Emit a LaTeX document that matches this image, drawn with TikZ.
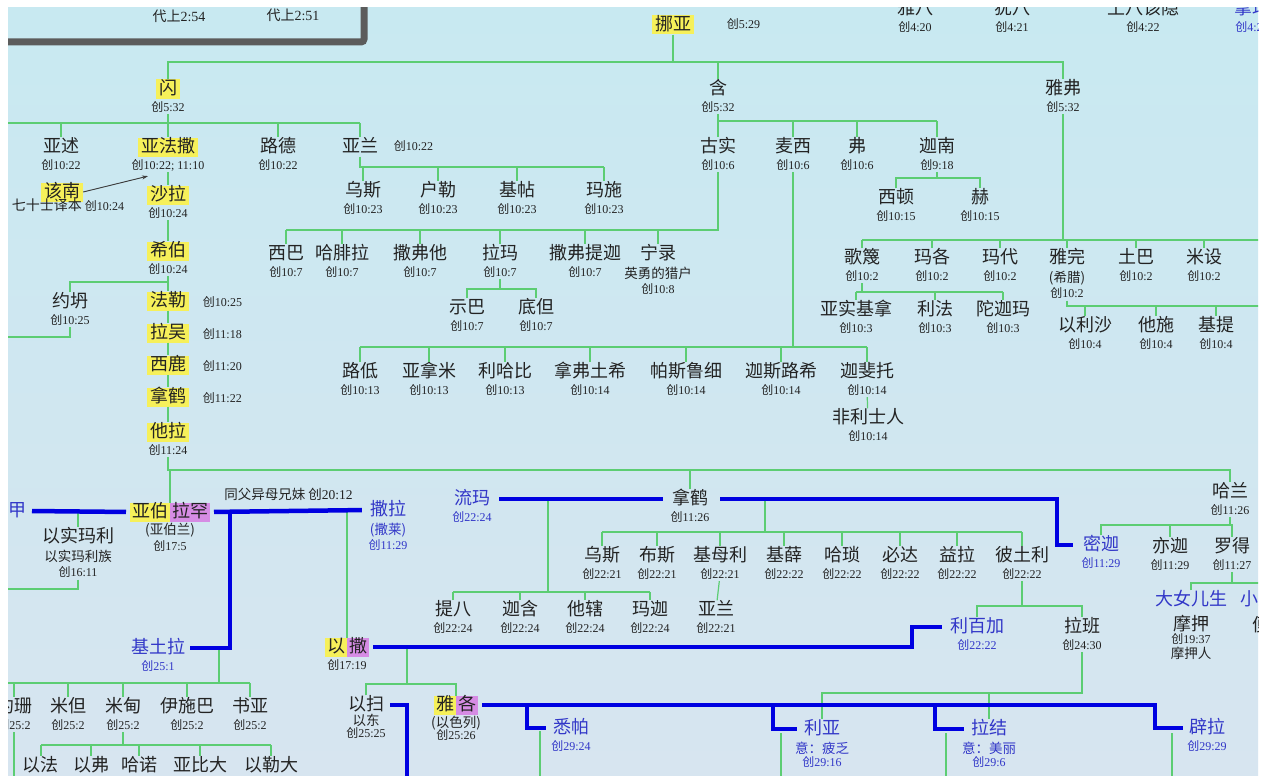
\documentclass[tikz,border=0pt]{standalone}
\usepackage{fontspec}
\setmainfont{Liberation Serif}
\newfontfamily\cjk{Noto Sans CJK SC}
\usetikzlibrary{positioning,arrows.meta}

\definecolor{ink}{RGB}{35,35,35}
\definecolor{nblue}{RGB}{50,55,200}
\definecolor{lgreen}{RGB}{92,205,115}
\definecolor{bblue}{RGB}{0,0,225}
\definecolor{hlyellow}{RGB}{246,240,90}
\definecolor{hlpurple}{RGB}{214,140,228}
\definecolor{bgtop}{RGB}{200,233,241}
\definecolor{bgbot}{RGB}{215,229,240}
\definecolor{boxgray}{RGB}{92,92,92}
\definecolor{arrowgray}{RGB}{60,60,60}

\newcommand\vs[1]{{\cjk 创}{\rmfamily #1}}

\tikzset{
  nm/.style={font=\cjk\fontsize{18}{20}\selectfont, text=ink, inner xsep=3pt, inner ysep=1pt, text height=14pt, text depth=3pt},
  bnm/.style={nm, text=nblue},
  hly/.style={nm, fill=hlyellow},
  hlp/.style={nm, fill=hlpurple},
  pair/.style={inner xsep=2pt, outer sep=0pt},
  rf/.style={font=\fontsize{12}{13}\selectfont, text=ink, inner sep=0.5pt, text height=8.5pt, text depth=2pt},
  brf/.style={rf, text=nblue},
  sub/.style={font=\cjk\fontsize{13.5}{14}\selectfont, text=ink, inner sep=0.5pt, text height=10.5pt, text depth=2pt},
  bsub/.style={sub, text=nblue},
  gl/.style={draw=lgreen, line width=1.2pt},
  bl/.style={draw=bblue, line width=4.5pt},
}

\begin{document}
\begin{tikzpicture}[x=1pt,y=-1pt,node distance=3.5pt]
\useasboundingbox (0,0) rectangle (1264,776);
\fill[white] (0,0) rectangle (1264,776);
\shade[top color=bgtop, bottom color=bgbot] (8,8) rectangle (1258,776);
\begin{scope}
\clip (8,8) rectangle (1258,776);

% frame top left
\draw[line width=7pt, draw=boxgray, rounded corners=3pt] (0,42) -- (364,42) -- (364,0);
\node[rf, font=\fontsize{14}{15}\selectfont] (chr1) at (179,18) {{\cjk 代上}2:54};
\node[rf, font=\fontsize{14}{15}\selectfont] (chr2) at (293,17) {{\cjk 代上}2:51};

% Cain line, cut at top
\node[nm] (jabal) at (915,9) {雅八};
\node[rf, below=of jabal] (jabalr) {\vs{4:20}};
\node[nm] (jubal) at (1012,9) {犹八};
\node[rf, below=of jubal] (jubalr) {\vs{4:21}};
\node[nm] (tubalcain) at (1143,9) {土八该隐};
\node[rf, below=of tubalcain] (tubalcainr) {\vs{4:22}};
\node[bnm] (naamah) at (1252,9) {拿玛};
\node[brf, below=of naamah] (naamahr) {\vs{4:22}};

% Noah and sons
\node[hly] (noah) at (673,25) {挪亚};
\node[rf, right=32pt of noah] (noahr) {\vs{5:29}};
\node[hly] (shem) at (168,89) {闪};
\node[rf, below=of shem] (shemr) {\vs{5:32}};
\node[nm] (ham) at (718,89) {含};
\node[rf, below=of ham] (hamr) {\vs{5:32}};
\node[nm] (japheth) at (1063,89) {雅弗};
\node[rf, below=of japheth] (japhethr) {\vs{5:32}};

% Shem
\node[nm] (ashur) at (61,147) {亚述};
\node[rf, below=of ashur] (ashurr) {\vs{10:22}};
\node[hly] (arpach) at (168,147) {亚法撒};
\node[rf, below=of arpach] (arpachr) {\vs{10:22; 11:10}};
\node[nm] (lud) at (278,147) {路德};
\node[rf, below=of lud] (ludr) {\vs{10:22}};
\node[nm] (aram) at (360,147) {亚兰};
\node[rf, right=12pt of aram] (aramr) {\vs{10:22}};

\node[nm] (uz) at (363,191) {乌斯};
\node[rf, below=of uz] (uzr) {\vs{10:23}};
\node[nm] (hul) at (438,191) {户勒};
\node[rf, below=of hul] (hulr) {\vs{10:23}};
\node[nm] (gether) at (517,191) {基帖};
\node[rf, below=of gether] (getherr) {\vs{10:23}};
\node[nm] (mash) at (604,191) {玛施};
\node[rf, below=of mash] (mashr) {\vs{10:23}};

\node[hly] (cainan) at (62,192) {该南};
\node[rf] (cainanr) at (68,207) {{\cjk\fontsize{14}{15}\selectfont 七十士译本} \vs{10:24}};
\node[hly] (salah) at (168,195) {沙拉};
\node[rf, below=of salah] (salahr) {\vs{10:24}};
\node[hly] (eber) at (168,251) {希伯};
\node[rf, below=of eber] (eberr) {\vs{10:24}};
\node[nm] (joktan) at (70,302) {约坍};
\node[rf, below=of joktan] (joktanr) {\vs{10:25}};
\node[hly] (peleg) at (168,301) {法勒};
\node[rf, right=13pt of peleg, yshift=-2pt] (pelegr) {\vs{10:25}};
\node[hly] (reu) at (168,333) {拉吴};
\node[rf, right=13pt of reu, yshift=-2pt] (reur) {\vs{11:18}};
\node[hly] (serug) at (168,365) {西鹿};
\node[rf, right=13pt of serug, yshift=-2pt] (serugr) {\vs{11:20}};
\node[hly] (nahor) at (168,397) {拿鹤};
\node[rf, right=13pt of nahor, yshift=-2pt] (nahorr) {\vs{11:22}};
\node[hly] (terah) at (168,432) {他拉};
\node[rf, below=of terah] (terahr) {\vs{11:24}};

% Ham
\node[nm] (cush) at (718,147) {古实};
\node[rf, below=of cush] (cushr) {\vs{10:6}};
\node[nm] (mizraim) at (793,147) {麦西};
\node[rf, below=of mizraim] (mizraimr) {\vs{10:6}};
\node[nm] (put) at (857,147) {弗};
\node[rf, below=of put] (putr) {\vs{10:6}};
\node[nm] (canaan) at (937,147) {迦南};
\node[rf, below=of canaan] (canaanr) {\vs{9:18}};
\node[nm] (sidon) at (896,198) {西顿};
\node[rf, below=of sidon] (sidonr) {\vs{10:15}};
\node[nm] (heth) at (980,198) {赫};
\node[rf, below=of heth] (hethr) {\vs{10:15}};

\node[nm] (seba) at (286,254) {西巴};
\node[rf, below=of seba] (sebar) {\vs{10:7}};
\node[nm] (havilah) at (342,254) {哈腓拉};
\node[rf, below=of havilah] (havilahr) {\vs{10:7}};
\node[nm] (sabtah) at (420,254) {撒弗他};
\node[rf, below=of sabtah] (sabtahr) {\vs{10:7}};
\node[nm] (raamah) at (500,254) {拉玛};
\node[rf, below=of raamah] (raamahr) {\vs{10:7}};
\node[nm] (sabteca) at (585,254) {撒弗提迦};
\node[rf, below=of sabteca] (sabtecar) {\vs{10:7}};
\node[nm] (nimrod) at (658,254) {宁录};
\node[sub, below=of nimrod] (nimrods) {英勇的猎户};
\node[rf, below=of nimrods] (nimrodr) {\vs{10:8}};
\node[nm] (sheba) at (467,308) {示巴};
\node[rf, below=of sheba] (shebar) {\vs{10:7}};
\node[nm] (dedan) at (536,308) {底但};
\node[rf, below=of dedan] (dedanr) {\vs{10:7}};

\node[nm] (ludim) at (360,372) {路低};
\node[rf, below=of ludim] (ludimr) {\vs{10:13}};
\node[nm] (anamim) at (429,372) {亚拿米};
\node[rf, below=of anamim] (anamimr) {\vs{10:13}};
\node[nm] (lehabim) at (505,372) {利哈比};
\node[rf, below=of lehabim] (lehabimr) {\vs{10:13}};
\node[nm] (naphtuhim) at (590,372) {拿弗土希};
\node[rf, below=of naphtuhim] (naphtuhimr) {\vs{10:14}};
\node[nm] (pathrusim) at (686,372) {帕斯鲁细};
\node[rf, below=of pathrusim] (pathrusimr) {\vs{10:14}};
\node[nm] (casluhim) at (781,372) {迦斯路希};
\node[rf, below=of casluhim] (casluhimr) {\vs{10:14}};
\node[nm] (caphtorim) at (867,372) {迦斐托};
\node[rf, below=of caphtorim] (caphtorimr) {\vs{10:14}};
\node[nm] (philistines) at (868,418) {非利士人};
\node[rf, below=of philistines] (philistinesr) {\vs{10:14}};

% Japheth
\node[nm] (gomer) at (862,258) {歌篾};
\node[rf, below=of gomer] (gomerr) {\vs{10:2}};
\node[nm] (magog) at (932,258) {玛各};
\node[rf, below=of magog] (magogr) {\vs{10:2}};
\node[nm] (madai) at (1000,258) {玛代};
\node[rf, below=of madai] (madair) {\vs{10:2}};
\node[nm] (javan) at (1067,258) {雅完};
\node[sub, below=of javan] (javans) {(希腊)};
\node[rf, below=of javans] (javanr) {\vs{10:2}};
\node[nm] (tubal) at (1136,258) {土巴};
\node[rf, below=of tubal] (tubalr) {\vs{10:2}};
\node[nm] (meshech) at (1204,258) {米设};
\node[rf, below=of meshech] (meshechr) {\vs{10:2}};
\node[nm] (tiras) at (1278,258) {提拉};
\node[rf, below=of tiras] (tirasr) {\vs{10:2}};
\node[nm] (ashkenaz) at (856,310) {亚实基拿};
\node[rf, below=of ashkenaz] (ashkenazr) {\vs{10:3}};
\node[nm] (riphath) at (935,310) {利法};
\node[rf, below=of riphath] (riphathr) {\vs{10:3}};
\node[nm] (togarmah) at (1003,310) {陀迦玛};
\node[rf, below=of togarmah] (togarmahr) {\vs{10:3}};
\node[nm] (elishah) at (1085,326) {以利沙};
\node[rf, below=of elishah] (elishahr) {\vs{10:4}};
\node[nm] (tarshish) at (1156,326) {他施};
\node[rf, below=of tarshish] (tarshishr) {\vs{10:4}};
\node[nm] (kittim) at (1216,326) {基提};
\node[rf, below=of kittim] (kittimr) {\vs{10:4}};
\node[nm] (dodanim) at (1285,326) {多单};
\node[rf, below=of dodanim] (dodanimr) {\vs{10:4}};

% Abraham
\node[hly, pair, anchor=east] (abr1) at (170,512) {亚伯};
\node[hlp, pair, anchor=west] (abr2) at (170,512) {拉罕};
\node[sub, below=2pt of abr1.south east] (abrs) {(亚伯兰)};
\node[rf, below=of abrs] (abrr) {\vs{17:5}};
\node[bnm, anchor=east] (hagar) at (30,511) {夏甲};
\node[nm] (ishmael) at (78,537) {以实玛利};
\node[sub, below=of ishmael] (ishmaels) {以实玛利族};
\node[rf, below=of ishmaels] (ishmaelr) {\vs{16:11}};
\node[bnm] (sarah) at (388,510) {撒拉};
\node[bsub, below=of sarah] (sarahs) {(撒莱)};
\node[brf, below=of sarahs] (sarahr) {\vs{11:29}};
\node[bnm] (keturah) at (158,648) {基土拉};
\node[brf, below=of keturah] (keturahr) {\vs{25:1}};

\node[nm] (jokshan) at (14,707) {约珊};
\node[rf, below=of jokshan] (jokshanr) {\vs{25:2}};
\node[nm] (medan) at (68,707) {米但};
\node[rf, below=of medan] (medanr) {\vs{25:2}};
\node[nm] (midian) at (123,707) {米甸};
\node[rf, below=of midian] (midianr) {\vs{25:2}};
\node[nm] (ishbak) at (187,707) {伊施巴};
\node[rf, below=of ishbak] (ishbakr) {\vs{25:2}};
\node[nm] (shuah) at (250,707) {书亚};
\node[rf, below=of shuah] (shuahr) {\vs{25:2}};
\node[nm] (ephah) at (41,766) {以法};
\node[nm] (epher) at (91,766) {以弗};
\node[nm] (hanoch) at (139,766) {哈诺};
\node[nm] (abida) at (200,766) {亚比大};
\node[nm] (eldaah) at (271,766) {以勒大};

% Isaac
\node[hly, pair, anchor=east] (isaac1) at (347,647) {以};
\node[hlp, pair, anchor=west] (isaac2) at (347,647) {撒};
\node[rf, below=of isaac1.south east] (isaacr) {\vs{17:19}};
\node[bnm] (rebekah) at (977,627) {利百加};
\node[brf, below=of rebekah] (rebekahr) {\vs{22:22}};
\node[nm] (esau) at (366,705) {以扫};
\node[sub, below=0pt of esau] (esaus) {以东};
\node[rf, below=0pt of esaus] (esaur) {\vs{25:25}};
\node[hly, pair, anchor=east] (jacob1) at (456,705) {雅};
\node[hlp, pair, anchor=west] (jacob2) at (456,705) {各};
\node[sub, below=2pt of jacob1.south east] (jacobs) {(以色列)};
\node[rf, below=0pt of jacobs] (jacobr) {\vs{25:26}};
\node[bnm] (zilpah) at (571,728) {悉帕};
\node[brf, below=of zilpah] (zilpahr) {\vs{29:24}};
\node[bnm] (leah) at (822,729) {利亚};
\node[bsub, below=of leah] (leahs) {意：疲乏};
\node[brf, below=1pt of leahs] (leahr) {\vs{29:16}};
\node[bnm] (rachel) at (989,729) {拉结};
\node[bsub, below=of rachel] (rachels) {意：美丽};
\node[brf, below=1pt of rachels] (rachelr) {\vs{29:6}};
\node[bnm] (bilhah) at (1207,728) {辟拉};
\node[brf, below=of bilhah] (bilhahr) {\vs{29:29}};

% Nahor and Haran
\node[bnm] (reumah) at (472,499) {流玛};
\node[brf, below=of reumah] (reumahr) {\vs{22:24}};
\node[nm] (nahor2) at (690,499) {拿鹤};
\node[rf, below=of nahor2] (nahor2r) {\vs{11:26}};
\node[bnm] (milcah) at (1101,545) {密迦};
\node[brf, below=of milcah] (milcahr) {\vs{11:29}};
\node[nm] (haran) at (1230,492) {哈兰};
\node[rf, below=of haran] (haranr) {\vs{11:26}};
\node[nm] (iscah) at (1170,547) {亦迦};
\node[rf, below=of iscah] (iscahr) {\vs{11:29}};
\node[nm] (lot) at (1232,547) {罗得};
\node[rf, below=of lot] (lotr) {\vs{11:27}};
\node[bnm] (elder) at (1191,600) {大女儿生};
\node[bnm, anchor=west] (younger) at (1237,600) {小女儿生};
\node[nm] (moab) at (1191,625) {摩押};
\node[rf, below=0pt of moab] (moabr) {\vs{19:37}};
\node[sub, below=1pt of moabr] (moabs) {摩押人};
\node[nm, anchor=west] (benammi) at (1249,626) {便亚米};

\node[nm] (tebah) at (453,610) {提八};
\node[rf, below=of tebah] (tebahr) {\vs{22:24}};
\node[nm] (gaham) at (520,610) {迦含};
\node[rf, below=of gaham] (gahamr) {\vs{22:24}};
\node[nm] (tahash) at (585,610) {他辖};
\node[rf, below=of tahash] (tahashr) {\vs{22:24}};
\node[nm] (maacah) at (650,610) {玛迦};
\node[rf, below=of maacah] (maacahr) {\vs{22:24}};
\node[nm] (aram2) at (716,610) {亚兰};
\node[rf, below=of aram2] (aram2r) {\vs{22:21}};

\node[nm] (uz2) at (602,556) {乌斯};
\node[rf, below=of uz2] (uz2r) {\vs{22:21}};
\node[nm] (buz) at (657,556) {布斯};
\node[rf, below=of buz] (buzr) {\vs{22:21}};
\node[nm] (kemuel) at (720,556) {基母利};
\node[rf, below=of kemuel] (kemuelr) {\vs{22:21}};
\node[nm] (kesed) at (784,556) {基薛};
\node[rf, below=of kesed] (kesedr) {\vs{22:22}};
\node[nm] (hazo) at (842,556) {哈琐};
\node[rf, below=of hazo] (hazor) {\vs{22:22}};
\node[nm] (pildash) at (900,556) {必达};
\node[rf, below=of pildash] (pildashr) {\vs{22:22}};
\node[nm] (jidlaph) at (957,556) {益拉};
\node[rf, below=of jidlaph] (jidlaphr) {\vs{22:22}};
\node[nm] (bethuel) at (1022,556) {彼土利};
\node[rf, below=of bethuel] (bethuelr) {\vs{22:22}};
\node[nm] (laban) at (1082,627) {拉班};
\node[rf, below=of laban] (labanr) {\vs{24:30}};

% bus levels and free ends
\coordinate (leftedge) at (0,0);
\coordinate (bottom) at (0,780);
\coordinate (noahbus) at (0,62);
\coordinate (shembus) at (0,123);
\coordinate (hambus) at (0,121);
\coordinate (arambus) at (0,167);
\coordinate (canaanbus) at (0,178);
\coordinate (cushbus) at (0,230);
\coordinate (raamahbus) at (0,289);
\coordinate (mizbus) at (0,347);
\coordinate (japhbus) at (0,240);
\coordinate (gomerbus) at (0,292);
\coordinate (javanbus) at (0,306);
\coordinate (eberbus) at (0,282);
\coordinate (joktanend) at (0,337);
\coordinate (terahbus) at (0,470);
\coordinate (ishend) at (0,589);
\coordinate (ketbus) at (0,683);
\coordinate (midbus) at (0,745);
\coordinate (isaacbus) at (0,684);
\coordinate (reubus) at (0,592);
\coordinate (milbus) at (0,532);
\coordinate (bethbus) at (0,606);
\coordinate (haranbus) at (0,525);
\coordinate (lotbus) at (0,583);
\coordinate (labanbus) at (0,693);
\coordinate (kj) at (230,511);
\coordinate (ketdrop) at (219,648);
\coordinate (isaacdrop) at (407,647);
\coordinate (reudrop) at (548,499);
\coordinate (mildrop) at (765,499);
\coordinate (rstep) at (912,0);
\coordinate (mstep) at (1057,0);
\coordinate (bstep) at (1155,0);
\coordinate (esauend) at (407,780);
\coordinate (zj) at (527,705);
\coordinate (lj) at (773,705);
\coordinate (rj) at (935,705);
\coordinate (zd) at (540,731);
\coordinate (ld) at (781,733);
\coordinate (rd) at (946,733);
\coordinate (bd) at (1172,733);

% green lines
\draw[gl] (noah.south) -- (noah.south |- noahbus);
\draw[gl] (shem.north) -- (shem.north |- noahbus) -- (japheth.north |- noahbus) -- (japheth.north);
\draw[gl] (ham.north |- noahbus) -- (ham.north);

\draw[gl] (shemr.south) -- (shemr.south |- shembus);
\draw[gl] (leftedge |- shembus) -- (aram.north |- shembus);
\foreach \p in {ashur,arpach,lud,aram} \draw[gl] (\p.north |- shembus) -- (\p.north);
\draw[gl] (aram.south) -- (aram.south |- arambus) -- (mash.north |- arambus);
\foreach \p in {uz,hul,gether,mash} \draw[gl] (\p.north |- arambus) -- (\p.north);

\draw[gl] (arpachr) -- (salah);
\draw[gl] (salahr) -- (eber);
\draw[gl] (eberr) -- (peleg);
\draw[gl] (peleg) -- (reu);
\draw[gl] (reu) -- (serug);
\draw[gl] (serug) -- (nahor);
\draw[gl] (nahor) -- (terah);
\draw[gl] (joktan.north) -- (joktan.north |- eberbus) -- (eberr.south |- eberbus);
\draw[gl] (joktanr.south) |- (joktanend);
\draw[-{Stealth[length=6pt,width=4pt]}, draw=arrowgray, fill=arrowgray, line width=0.9pt]
  (cainan.east) -- ([xshift=-20pt,yshift=-4pt]arpachr.south);

\draw[gl] (terahr.south) -- (terahr.south |- terahbus) -- (haran.north |- terahbus) -- (haran.north);
\draw[gl] (abr1.north east |- terahbus) -- (abr1.north east);
\draw[gl] (nahor2.north |- terahbus) -- (nahor2.north);

\draw[gl] (hamr.south) -- (hamr.south |- hambus) -- (canaan.north |- hambus);
\foreach \p in {cush,mizraim,put,canaan} \draw[gl] (\p.north |- hambus) -- (\p.north);
\draw[gl] (canaanr.south) -- (canaanr.south |- canaanbus);
\draw[gl] (sidon.north) -- (sidon.north |- canaanbus) -- (heth.north |- canaanbus) -- (heth.north);
\draw[gl] (cushr.south) -- (cushr.south |- cushbus) -- (seba.north |- cushbus);
\foreach \p in {seba,havilah,sabtah,raamah,sabteca,nimrod} \draw[gl] (\p.north |- cushbus) -- (\p.north);
\draw[gl] (raamahr.south) -- (raamahr.south |- raamahbus);
\draw[gl] (sheba.north) -- (sheba.north |- raamahbus) -- (dedan.north |- raamahbus) -- (dedan.north);
\draw[gl] (mizraimr.south) -- (mizraimr.south |- mizbus);
\draw[gl] (ludim.north |- mizbus) -- (caphtorim.north |- mizbus);
\foreach \p in {ludim,anamim,lehabim,naphtuhim,pathrusim,casluhim,caphtorim} \draw[gl] (\p.north |- mizbus) -- (\p.north);
\draw[gl] (caphtorimr) -- (philistines);

\draw[gl] (japhethr.south) -- (japhethr.south |- japhbus);
\draw[gl] (gomer.north |- japhbus) -- (tiras.north |- japhbus);
\foreach \p in {gomer,magog,madai,javan,tubal,meshech,tiras} \draw[gl] (\p.north |- japhbus) -- (\p.north);
\draw[gl] (gomerr.south) -- (gomerr.south |- gomerbus);
\draw[gl] (ashkenaz.north |- gomerbus) -- (togarmah.north |- gomerbus);
\foreach \p in {ashkenaz,riphath,togarmah} \draw[gl] (\p.north |- gomerbus) -- (\p.north);
\draw[gl] (javanr.south) -- (javanr.south |- javanbus) -- (dodanim.north |- javanbus);
\foreach \p in {elishah,tarshish,kittim,dodanim} \draw[gl] (\p.north |- javanbus) -- (\p.north);

\draw[gl] (ishmael.north |- hagar) -- (ishmael.north);
\draw[gl] (ishmaelr.south) |- (ishend);
\draw[gl] (isaac1.north east |- sarah.west) -- (isaac1.north east);
\draw[gl] (ketdrop) -- (ketdrop |- ketbus);
\draw[gl] (leftedge |- ketbus) -- (shuah.north |- ketbus);
\foreach \p in {jokshan,medan,midian,ishbak,shuah} \draw[gl] (\p.north |- ketbus) -- (\p.north);
\draw[gl] (jokshanr.south) -- (jokshanr.south |- bottom);
\draw[gl] (midianr.south) -- (midianr.south |- midbus);
\draw[gl] (ephah.north |- midbus) -- (eldaah.north |- midbus);
\foreach \p in {ephah,epher,hanoch,abida,eldaah} \draw[gl] (\p.north |- midbus) -- (\p.north);

\draw[gl] (isaacdrop) -- (isaacdrop |- isaacbus);
\draw[gl] (esau.north) -- (esau.north |- isaacbus) -- (jacob1.north east |- isaacbus) -- (jacob1.north east);
\draw[gl] (reudrop) -- (reudrop |- reubus);
\draw[gl] (tebah.north |- reubus) -- (maacah.north |- reubus);
\foreach \p in {tebah,gaham,tahash,maacah} \draw[gl] (\p.north |- reubus) -- (\p.north);
\draw[gl] (mildrop) -- (mildrop |- milbus);
\draw[gl] (uz2.north |- milbus) -- (bethuel.north |- milbus);
\foreach \p in {uz2,buz,kemuel,kesed,hazo,pildash,jidlaph,bethuel} \draw[gl] (\p.north |- milbus) -- (\p.north);
\draw[gl] (kemuelr) -- (aram2);
\draw[gl] (bethuelr.south) -- (bethuelr.south |- bethbus);
\draw[gl] (rebekah.north) -- (rebekah.north |- bethbus) -- (laban.north |- bethbus) -- (laban.north);
\draw[gl] (labanr.south) -- (labanr.south |- labanbus) -- (leah.north |- labanbus) -- (leah.north);
\draw[gl] (rachel.north |- labanbus) -- (rachel.north);
\draw[gl] (haranr.south) -- (haranr.south |- haranbus);
\draw[gl] (milcah.north) -- (milcah.north |- haranbus) -- (lot.north |- haranbus) -- (lot.north);
\draw[gl] (iscah.north |- haranbus) -- (iscah.north);
\draw[gl] (lotr.south) -- (lotr.south |- lotbus);
\draw[gl] (elder.north) -- (elder.north |- lotbus) -- (younger.north |- lotbus) -- (younger.north);
\foreach \c in {zd,ld,rd,bd} \draw[gl] (\c) -- (\c |- bottom);

% blue lines
\draw[bl, shorten <=2pt, shorten >=4pt] (hagar.east) -- (abr1.west);
\draw[bl, shorten <=4pt, shorten >=5pt] (abr2.east) --
  node[sub, above=7pt] (halfsib) {同父异母兄妹 \vs{20:12}} (sarah.west);
\draw[bl, shorten >=2pt] (kj) |- (keturah.east);
\draw[bl, shorten <=4pt, shorten >=5pt] (isaac2.east) -- (isaac2.east -| rstep) |- (rebekah.west);
\draw[bl, shorten <=3pt] (esau.east) -| (esauend);
\draw[bl, shorten <=4pt, shorten >=3pt] (jacob2.east) -- (jacob2.east -| bstep) |- (bilhah.west);
\foreach \j/\w in {zj/zilpah,lj/leah,rj/rachel} \draw[bl, shorten >=4pt] (\j) |- (\w.west);
\draw[bl, shorten <=6pt, shorten >=6pt] (reumah.east) -- (nahor2.west);
\draw[bl, shorten <=9pt, shorten >=7pt] (nahor2.east) -- (nahor2.east -| mstep) |- (milcah.west);
\end{scope}
\end{tikzpicture}
\end{document}
